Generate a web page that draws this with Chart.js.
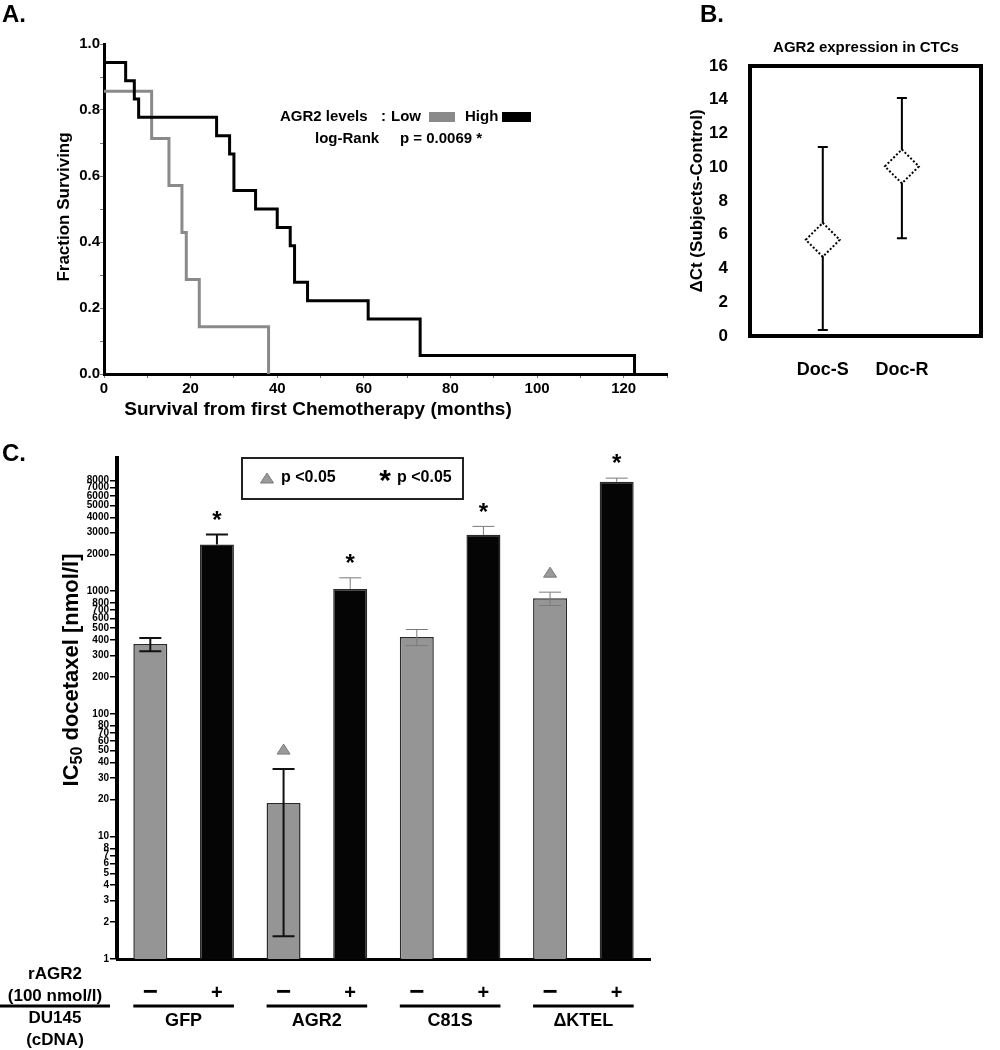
<!DOCTYPE html>
<html>
<head>
<meta charset="utf-8">
<script src="https://cdn.jsdelivr.net/npm/chart.js@4.4.0/dist/chart.umd.min.js"></script>
<style>
  body { margin: 0; background: #fff; }
  #page { position: relative; width: 1000px; height: 1050px; font-family: "Liberation Sans", Arial, sans-serif; }
  .tag { position: absolute; font-weight: bold; font-size: 24px; line-height: 1; }
  .box { position: absolute; }
  canvas { display: block; }
</style>
</head>
<body>
<div id="page">
  <div class="box" style="left:0;top:0"><canvas id="chartA" width="700" height="430"></canvas></div>
  <div class="box" style="left:680px;top:0"><canvas id="chartB" width="320" height="430"></canvas></div>
  <div class="box" style="left:0;top:430px"><canvas id="chartC" width="700" height="620"></canvas></div>
  <div class="tag" style="left:2px;top:2px">A.</div>
  <div class="tag" style="left:700px;top:2px">B.</div>
  <div class="tag" style="left:2px;top:441px">C.</div>
</div>
<script>
// ---- A: Kaplan-Meier, survival from first chemotherapy ----
const highMonths = [0, 5, 7, 8, 26, 29, 30, 35, 40, 43, 44, 47, 61, 73, 122.5];
const highSurv   = [0.944, 0.889, 0.833, 0.778, 0.722, 0.667, 0.556, 0.5, 0.444, 0.389, 0.278, 0.222, 0.167, 0.056, 0];
const lowMonths  = [0, 11, 15, 18, 19, 22, 38];
const lowSurv    = [0.857, 0.714, 0.571, 0.429, 0.286, 0.143, 0];

// ---- B: AGR2 expression in CTCs ----
const bGroups = ['Doc-S', 'Doc-R'];
const bMean   = [5.7, 10.05];
const bLow    = [0.35, 5.8];
const bHigh   = [11.2, 14.1];

// ---- C: IC50 docetaxel ----
const cGroups  = ['GFP', 'AGR2', 'C81S', '\u0394KTEL'];
const cRagr2   = ['\u2212', '+', '\u2212', '+', '\u2212', '+', '\u2212', '+'];
const cIC50    = [371, 2405, 18.7, 1044, 424, 2883, 877, 7800];
const cErrHigh = [415, 2904, 35.4, 1285, 487, 3377, 982, 8360];
const cErrLow  = [324, 2405, 1.53, 1044, 360, 2883, 764, 7800];
const cMarks   = ['', '*', 'tri', '*', '', '*', 'tri', '*'];
const cTicks   = [1, 2, 3, 4, 5, 6, 7, 8, 10, 20, 30, 40, 50, 60, 70, 80, 100, 200, 300, 400, 500, 600, 700, 800,
                  1000, 2000, 3000, 4000, 5000, 6000, 7000, 8000];

const fam = '"Liberation Sans", Arial, sans-serif';
Chart.defaults.font.family = fam;
Chart.defaults.color = '#000';
Chart.defaults.animation = false;
Chart.defaults.plugins.legend.display = false;
Chart.defaults.plugins.tooltip.enabled = false;

const bold = (s) => 'bold ' + s + 'px ' + fam;

const rotText = (ctx, txt, x, y, font) => {
  ctx.save();
  ctx.font = font;
  ctx.textAlign = 'center';
  ctx.textBaseline = 'middle';
  ctx.translate(x, y);
  ctx.rotate(-Math.PI / 2);
  ctx.fillText(txt, 0, 0);
  ctx.restore();
};

const triangle = (ctx, cx, cy) => {
  ctx.beginPath();
  ctx.moveTo(cx, cy - 5);
  ctx.lineTo(cx + 6.5, cy + 5);
  ctx.lineTo(cx - 6.5, cy + 5);
  ctx.closePath();
  ctx.fillStyle = '#9a9a9a';
  ctx.fill();
  ctx.strokeStyle = '#7a7a7a';
  ctx.lineWidth = 1;
  ctx.stroke();
};

// '*' sits high in the em box, so push the baseline down
const asterisk = (ctx, cx, cy, size) => {
  ctx.font = bold(size);
  ctx.textAlign = 'center';
  ctx.textBaseline = 'alphabetic';
  ctx.fillStyle = '#000';
  ctx.fillText('*', cx, cy + size * 0.43);
};

// ---------- panel A ----------
const panelA = {
  id: 'panelA',
  afterDraw(chart) {
    const ctx = chart.ctx;
    ctx.save();
    ctx.fillStyle = '#000';
    rotText(ctx, 'Fraction Surviving', 64, 207, bold(17));
    ctx.font = bold(19);
    ctx.textAlign = 'center';
    ctx.textBaseline = 'middle';
    ctx.fillText('Survival from first Chemotherapy (months)', 318, 410);

    ctx.font = bold(15);
    ctx.textAlign = 'left';
    ctx.fillText('AGR2 levels', 280, 117);
    ctx.fillText(':', 381, 117);
    ctx.fillText('Low', 391, 117);
    ctx.fillStyle = '#8a8a8a';
    ctx.fillRect(429, 112, 26, 10);
    ctx.fillStyle = '#000';
    ctx.fillText('High', 465, 117);
    ctx.fillRect(502, 112, 29, 10);
    ctx.fillText('log-Rank', 315, 139);
    ctx.fillText('p = 0.0069 *', 400, 139);
    ctx.restore();
  }
};

new Chart(document.getElementById('chartA'), {
  type: 'line',
  data: {
    datasets: [
      {
        label: 'High',
        data: highMonths.map((m, i) => ({ x: m, y: highSurv[i] })),
        borderColor: '#000',
        borderWidth: 3,
        stepped: 'before',
        pointRadius: 0,
        fill: false
      },
      {
        label: 'Low',
        data: lowMonths.map((m, i) => ({ x: m, y: lowSurv[i] })),
        borderColor: '#8a8a8a',
        borderWidth: 3,
        stepped: 'before',
        pointRadius: 0,
        fill: false
      }
    ]
  },
  options: {
    responsive: false,
    layout: { padding: { top: 44, right: 33, left: 0, bottom: 0 } },
    scales: {
      x: {
        type: 'linear',
        min: 0,
        max: 130,
        afterFit: (s) => { s.height = 56; },
        border: { color: '#000', width: 3 },
        grid: { drawOnChartArea: false, tickLength: 4, color: '#777' },
        ticks: {
          stepSize: 10,
          includeBounds: false,
          autoSkip: false,
          maxRotation: 0,
          padding: 2,
          font: { size: 15, weight: 'bold' },
          callback: (v) => (v % 20 === 0 && v <= 120 ? String(v) : '')
        }
      },
      y: {
        min: 0,
        max: 1,
        afterFit: (s) => { s.width = 104; },
        border: { color: '#000', width: 3 },
        grid: { drawOnChartArea: false, tickLength: 4, color: '#777' },
        ticks: {
          stepSize: 0.1,
          autoSkip: false,
          padding: 0,
          font: { size: 15, weight: 'bold' },
          callback: (v) => (Math.round(v * 10) % 2 === 0 ? v.toFixed(1) : '')
        }
      }
    }
  },
  plugins: [panelA]
});

// ---------- panel B ----------
const panelB = {
  id: 'panelB',
  beforeDatasetsDraw(chart) {
    const { ctx, scales: { x, y } } = chart;
    ctx.save();
    ctx.strokeStyle = '#000';
    ctx.lineWidth = 2;
    bMean.forEach((m, i) => {
      const px = x.getPixelForValue(i + 1);
      const yt = y.getPixelForValue(bHigh[i]);
      const yb = y.getPixelForValue(bLow[i]);
      ctx.beginPath();
      ctx.moveTo(px, yt); ctx.lineTo(px, yb);
      ctx.moveTo(px - 5, yt); ctx.lineTo(px + 5, yt);
      ctx.moveTo(px - 5, yb); ctx.lineTo(px + 5, yb);
      ctx.stroke();
    });
    ctx.restore();
  },
  beforeDatasetDraw(chart) { chart.ctx.setLineDash([2, 2]); },
  afterDatasetDraw(chart) { chart.ctx.setLineDash([]); },
  afterDraw(chart) {
    const { ctx, chartArea: a } = chart;
    ctx.save();
    ctx.strokeStyle = '#000';
    ctx.lineWidth = 4;
    ctx.strokeRect(a.left, a.top, a.right - a.left, a.bottom - a.top);
    ctx.fillStyle = '#000';
    ctx.font = bold(15);
    ctx.textAlign = 'center';
    ctx.textBaseline = 'middle';
    ctx.fillText('AGR2 expression in CTCs', 186, 48);
    rotText(ctx, '\u0394Ct (Subjects-Control)', 17, 201, bold(17));
    ctx.restore();
  }
};

new Chart(document.getElementById('chartB'), {
  type: 'scatter',
  data: {
    datasets: [{
      data: bMean.map((m, i) => ({ x: i + 1, y: m })),
      pointStyle: 'rectRot',
      pointRadius: 17,
      pointBackgroundColor: '#fff',
      pointBorderColor: '#000',
      pointBorderWidth: 2
    }]
  },
  options: {
    responsive: false,
    layout: { padding: { top: 66, right: 2, left: 0, bottom: 0 } },
    scales: {
      x: {
        type: 'linear',
        min: 0.08,
        max: 3,
        afterFit: (s) => { s.height = 94; },
        afterBuildTicks: (s) => { s.ticks = bGroups.map((g, i) => ({ value: i + 1 })); },
        grid: { display: false },
        border: { display: false },
        ticks: { padding: 15, font: { size: 18, weight: 'bold' }, callback: (v) => bGroups[v - 1] }
      },
      y: {
        min: 0,
        max: 16,
        afterFit: (s) => { s.width = 70; },
        grid: { display: false },
        border: { display: false },
        ticks: { stepSize: 2, padding: 14, font: { size: 17, weight: 'bold' } }
      }
    }
  },
  plugins: [panelB]
});

// ---------- panel C ----------
const panelC = {
  id: 'panelC',
  afterDatasetsDraw(chart) {
    const { ctx, scales: { x, y } } = chart;
    ctx.save();
    ctx.strokeStyle = '#111';
    ctx.lineWidth = 2;
    cIC50.forEach((v, i) => {
      const px = x.getPixelForValue(i);
      const yt = y.getPixelForValue(cErrHigh[i]);
      const yb = y.getPixelForValue(cErrLow[i]);
      ctx.beginPath();
      ctx.moveTo(px, yt); ctx.lineTo(px, yb);
      ctx.moveTo(px - 11, yt); ctx.lineTo(px + 11, yt);
      if (cErrLow[i] < v) { ctx.moveTo(px - 11, yb); ctx.lineTo(px + 11, yb); }
      ctx.stroke();
      if (cMarks[i] === '*') asterisk(ctx, px, yt - 17, 24);
      if (cMarks[i] === 'tri') triangle(ctx, px, yt - 20);
    });
    ctx.restore();
  },
  afterDraw(chart) {
    const { ctx, scales: { x } } = chart;
    ctx.save();
    ctx.fillStyle = '#000';

    // legend box
    ctx.strokeStyle = '#222';
    ctx.lineWidth = 2;
    ctx.strokeRect(242, 28, 221, 41);
    triangle(ctx, 267, 48);
    ctx.fillStyle = '#000';
    ctx.font = bold(16);
    ctx.textAlign = 'left';
    ctx.textBaseline = 'middle';
    ctx.fillText('p <0.05', 281, 48);
    asterisk(ctx, 385, 47, 30);
    ctx.font = bold(16);
    ctx.textAlign = 'left';
    ctx.textBaseline = 'middle';
    ctx.fillText('p <0.05', 397, 48);

    // y title with subscript
    ctx.save();
    ctx.translate(80, 240);
    ctx.rotate(-Math.PI / 2);
    ctx.textBaseline = 'alphabetic';
    ctx.textAlign = 'left';
    const main = bold(22), sub = bold(16);
    ctx.font = main; const w1 = ctx.measureText('IC').width;
    ctx.font = sub; const w2 = ctx.measureText('50').width;
    ctx.font = main; const w3 = ctx.measureText(' docetaxel [nmol/l]').width;
    const x0 = -(w1 + w2 + w3) / 2;
    ctx.fillText('IC', x0, -2);
    ctx.font = sub; ctx.fillText('50', x0 + w1, 2);
    ctx.font = main; ctx.fillText(' docetaxel [nmol/l]', x0 + w1 + w2, -2);
    ctx.restore();

    // category rows under the axis
    ctx.textAlign = 'center';
    ctx.textBaseline = 'middle';
    cRagr2.forEach((s, i) => {
      ctx.font = s === '+' ? bold(20) : bold(26);
      ctx.fillText(s, x.getPixelForValue(i), 563);
    });
    ctx.lineWidth = 3;
    ctx.strokeStyle = '#000';
    cGroups.forEach((g, k) => {
      const l = x.getPixelForValue(2 * k) - 17;
      const r = x.getPixelForValue(2 * k + 1) + 17;
      ctx.beginPath(); ctx.moveTo(l, 576); ctx.lineTo(r, 576); ctx.stroke();
      ctx.font = bold(18);
      ctx.fillText(g, (l + r) / 2, 591);
    });
    ctx.font = bold(17);
    ctx.fillText('rAGR2', 55, 544);
    ctx.fillText('(100 nmol/l)', 55, 566);
    ctx.beginPath(); ctx.moveTo(0, 576); ctx.lineTo(110, 576); ctx.stroke();
    ctx.fillText('DU145', 55, 588);
    ctx.fillText('(cDNA)', 55, 610);
    ctx.restore();
  }
};

new Chart(document.getElementById('chartC'), {
  type: 'bar',
  data: {
    labels: cRagr2.map((s, i) => cGroups[Math.floor(i / 2)] + ' ' + s),
    datasets: [{
      data: cIC50,
      backgroundColor: cRagr2.map((s) => (s === '+' ? '#050505' : '#959595')),
      borderColor: '#2a2a2a',
      borderWidth: 1.5,
      barPercentage: 0.51,
      categoryPercentage: 1
    }]
  },
  options: {
    responsive: false,
    layout: { padding: { top: 28, right: 50, left: 0, bottom: 0 } },
    scales: {
      x: {
        afterFit: (s) => { s.height = 91; },
        grid: { display: false },
        ticks: { display: false },
        border: { color: '#000', width: 3 }
      },
      y: {
        type: 'logarithmic',
        min: 1,
        max: 12200,
        afterFit: (s) => { s.width = 117; },
        afterBuildTicks: (s) => { s.ticks = cTicks.map((v) => ({ value: v })); },
        border: { color: '#000', width: 4 },
        grid: { drawOnChartArea: false, tickLength: 7, color: '#000', lineWidth: 1.5 },
        ticks: { autoSkip: false, padding: 1, font: { size: 10, weight: 'bold' }, callback: (v) => String(v) }
      }
    }
  },
  plugins: [panelC]
});
</script>
</body>
</html>
